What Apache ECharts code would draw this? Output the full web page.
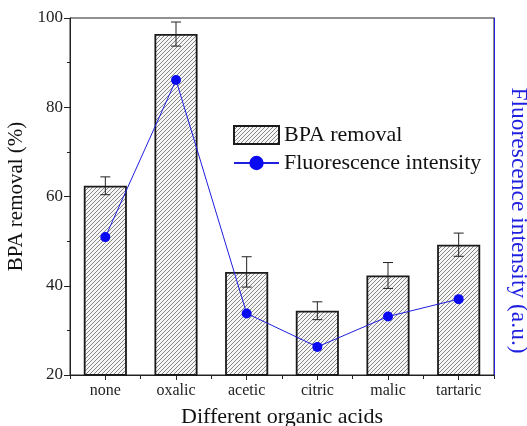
<!DOCTYPE html>
<html>
<head>
<meta charset="utf-8">
<script src="https://cdn.jsdelivr.net/npm/echarts@6/dist/echarts.min.js"></script>
<style>
  html, body { margin: 0; padding: 0; background: #fff; }
  #chart { width: 527px; height: 426px; }
</style>
</head>
<body>
<div id="chart"></div>
<script>
// Organic acids tested
const categories = ['none', 'oxalic', 'acetic', 'citric', 'malic', 'tartaric'];
// BPA removal (%) and its standard deviation
const removal = [62.4, 96.4, 43.1, 34.4, 42.3, 49.2];
const removalErr = [2.0, 2.7, 3.4, 2.0, 2.9, 2.6];
// Fluorescence intensity (arbitrary units, plotted on the right axis)
const fluorescence = [50.9, 86.1, 33.8, 26.3, 33.1, 37.0];
// Left axis ticks
const yTicks = [20, 40, 60, 80, 100];

const FONT = '"Liberation Serif", "Times New Roman", serif';
const BLUE = '#1f1fe0';

// Diagonal hatch fill for the bars
function hatchPattern() {
  const s = 4;
  const c = document.createElement('canvas');
  c.width = s; c.height = s;
  const g = c.getContext('2d');
  g.fillStyle = '#f6f6f6';
  g.fillRect(0, 0, s, s);
  g.strokeStyle = '#6a6a6a';
  g.lineWidth = 0.8;
  g.beginPath();
  g.moveTo(-1, s + 1); g.lineTo(s + 1, -1);
  g.moveTo(-1, 1); g.lineTo(1, -1);
  g.moveTo(s - 1, s + 1); g.lineTo(s + 1, s - 1);
  g.stroke();
  return c;
}

const chart = echarts.init(document.getElementById('chart'), null, { renderer: 'canvas' });

const option = {
  backgroundColor: '#fff',
  animation: false,
  grid: {
    left: 70, right: 33, top: 18, bottom: 51,
    outerBoundsMode: 'none',
    containLabel: false,
    show: true, borderColor: '#222', borderWidth: 1, backgroundColor: 'transparent'
  },
  legend: {
    orient: 'vertical',
    left: 228,
    top: 119,
    itemWidth: 45,
    itemHeight: 18,
    itemGap: 6,
    textStyle: { fontFamily: FONT, fontSize: 22, color: '#111' },
    data: [
      { name: 'BPA removal', icon: 'rect' },
      { name: 'Fluorescence intensity' }
    ]
  },
  xAxis: [
    {
      type: 'category',
      data: categories,
      position: 'bottom',
      axisLine: { lineStyle: { color: '#222', width: 1 } },
      axisTick: { show: true, alignWithLabel: false, length: 4, lineStyle: { color: '#222' } },
      axisLabel: { fontFamily: FONT, fontSize: 16, color: '#222', margin: 8 },
      name: 'Different organic acids',
      nameLocation: 'middle',
      nameGap: 31,
      nameTextStyle: { fontFamily: FONT, fontSize: 22, color: '#111' }
    },
    {
      type: 'category',
      data: categories,
      position: 'bottom',
      axisLine: { show: false },
      axisTick: { show: true, alignWithLabel: true, length: 5, lineStyle: { color: '#222' } },
      axisLabel: { show: false }
    }
  ],
  yAxis: [
    {
      type: 'value',
      min: yTicks[0],
      max: yTicks[yTicks.length - 1],
      interval: 20,
      position: 'left',
      axisLine: { show: true, lineStyle: { color: '#222', width: 1 } },
      axisTick: { show: true, length: 6, lineStyle: { color: '#222' } },
      minorTick: { show: true, splitNumber: 2, length: 3, lineStyle: { color: '#222' } },
      splitLine: { show: false },
      axisLabel: { fontFamily: FONT, fontSize: 17, color: '#222', margin: 7 },
      name: 'BPA removal (%)',
      nameLocation: 'middle',
      nameGap: 43,
      nameRotate: 90,
      nameTextStyle: { fontFamily: FONT, fontSize: 21, color: '#111' }
    },
    {
      type: 'value',
      min: 20,
      max: 100,
      position: 'right',
      axisLine: { show: true, lineStyle: { color: BLUE, width: 1 } },
      axisTick: { show: false },
      axisLabel: { show: false },
      splitLine: { show: false },
      name: 'Fluorescence intensity (a.u.)',
      nameLocation: 'middle',
      nameGap: 12,
      nameRotate: -90,
      nameTextStyle: { fontFamily: FONT, fontSize: 23.5, color: BLUE, padding: [0, 0, 0, 48] }
    }
  ],
  series: [
    {
      name: 'BPA removal',
      type: 'bar',
      xAxisIndex: 0,
      yAxisIndex: 0,
      data: removal,
      barWidth: '61%',
      itemStyle: {
        color: { image: hatchPattern(), repeat: 'repeat' },
        borderColor: '#1a1a1a',
        borderWidth: 1.8
      },
      z: 2
    },
    {
      name: 'error',
      type: 'custom',
      xAxisIndex: 0,
      yAxisIndex: 0,
      data: removal.map((v, i) => [i, v, removalErr[i]]),
      renderItem: function (params, api) {
        const i = api.value(0);
        const v = api.value(1);
        const e = api.value(2);
        const hi = api.coord([i, v + e]);
        const lo = api.coord([i, v - e]);
        const cap = 5;
        const style = { stroke: '#222', lineWidth: 1 };
        return {
          type: 'group',
          children: [
            { type: 'line', shape: { x1: hi[0], y1: hi[1], x2: lo[0], y2: lo[1] }, style },
            { type: 'line', shape: { x1: hi[0] - cap, y1: hi[1], x2: hi[0] + cap, y2: hi[1] }, style },
            { type: 'line', shape: { x1: lo[0] - cap, y1: lo[1], x2: lo[0] + cap, y2: lo[1] }, style }
          ]
        };
      },
      z: 3,
      silent: true
    },
    {
      name: 'Fluorescence intensity',
      type: 'line',
      xAxisIndex: 0,
      yAxisIndex: 1,
      data: fluorescence,
      symbol: 'circle',
      symbolSize: 10,
      lineStyle: { color: BLUE, width: 1 },
      itemStyle: { color: '#0a0af0' },
      z: 4
    }
  ]
};

chart.setOption(option);
</script>
</body>
</html>
